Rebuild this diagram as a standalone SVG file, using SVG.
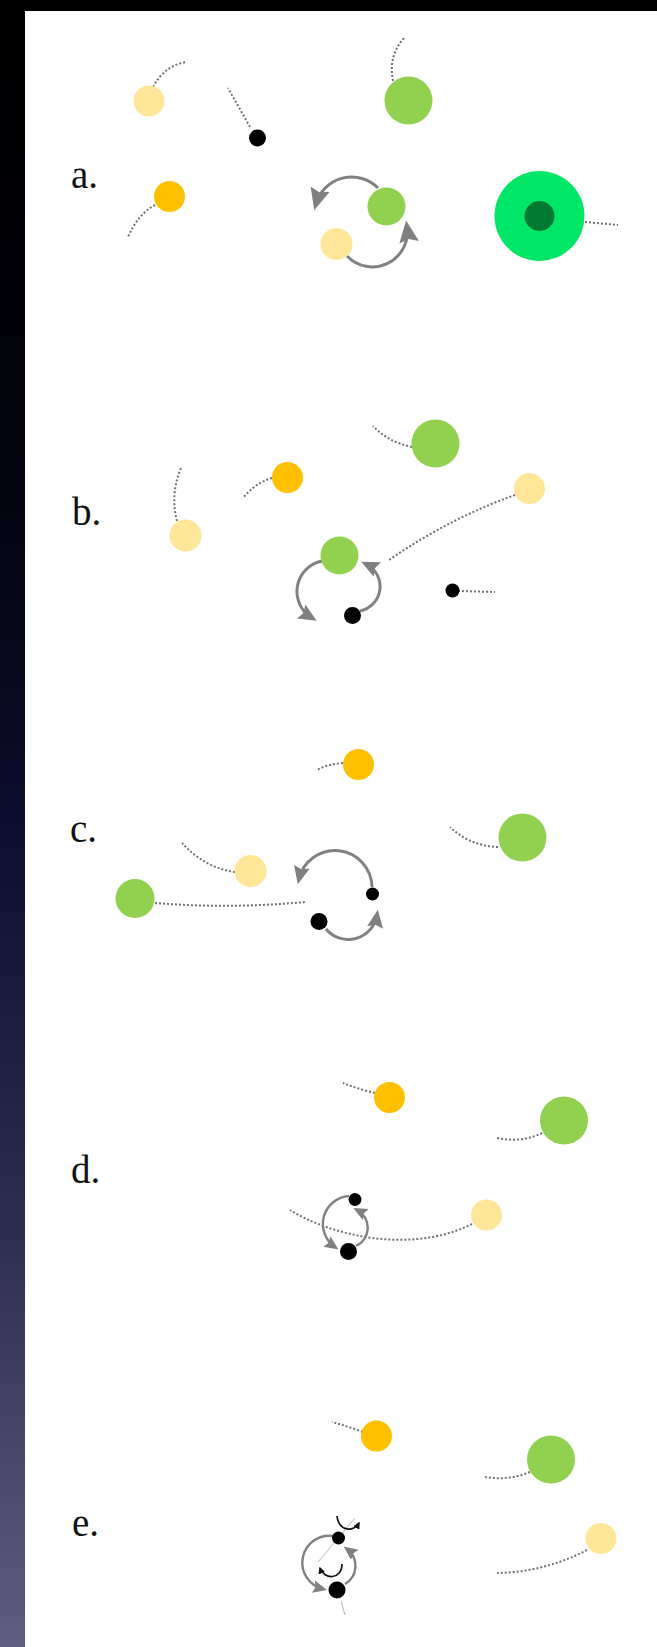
<svg xmlns="http://www.w3.org/2000/svg" width="657" height="1647" viewBox="0 0 657 1647">
<defs>
<linearGradient id="side" x1="0" y1="0" x2="0" y2="1">
<stop offset="0" stop-color="#000000"/>
<stop offset="0.3" stop-color="#03030f"/>
<stop offset="0.5" stop-color="#0d0d2e"/>
<stop offset="0.75" stop-color="#2e2e4e"/>
<stop offset="1" stop-color="#605e80"/>
</linearGradient>
<marker id="ahL" viewBox="0 0 10 10" refX="7" refY="5" markerWidth="22" markerHeight="22" markerUnits="userSpaceOnUse" orient="auto">
<path d="M0,0.5 L10,5 L0,9.5 L1.5,5 z" fill="#808080"/>
</marker>
<marker id="ahM" viewBox="0 0 10 10" refX="7" refY="5" markerWidth="18" markerHeight="18" markerUnits="userSpaceOnUse" orient="auto">
<path d="M0,0.5 L10,5 L0,9.5 L1.5,5 z" fill="#808080"/>
</marker>
<marker id="ahS" viewBox="0 0 10 10" refX="7" refY="5" markerWidth="14" markerHeight="14" markerUnits="userSpaceOnUse" orient="auto">
<path d="M0,0.5 L10,5 L0,9.5 L1.5,5 z" fill="#808080"/>
</marker>
<marker id="ahK" viewBox="0 0 10 10" refX="8" refY="5" markerWidth="7" markerHeight="7" markerUnits="userSpaceOnUse" orient="auto">
<path d="M0,0 L10,5 L0,10 z" fill="#111111"/>
</marker>
</defs>
<style>
.tail{fill:none;stroke:#707070;stroke-width:2;stroke-dasharray:2 2}
.arc{fill:none;stroke:#808080;stroke-width:3}
.arcS{fill:none;stroke:#808080;stroke-width:2.4}
.curl{fill:none;stroke:#111111;stroke-width:1.7}
.thin{fill:none;stroke:#b0b0b0;stroke-width:0.9}
.lbl{font-family:"Liberation Serif","Times New Roman",serif;font-size:39px;fill:#111111}
.py{fill:#FFE699}
.or{fill:#FFC000}
.gr{fill:#92D050}
.bk{fill:#000000}
</style>
<rect x="0" y="0" width="657" height="1647" fill="#ffffff"/>
<rect x="0" y="0" width="25" height="1647" fill="url(#side)"/>
<rect x="0" y="0" width="657" height="11" fill="#000000"/>

<g id="labels">
<text class="lbl" x="71" y="188">a.</text>
<text class="lbl" x="72" y="525">b.</text>
<text class="lbl" x="70" y="842">c.</text>
<text class="lbl" x="71" y="1183">d.</text>
<text class="lbl" x="72" y="1536">e.</text>
</g>

<g id="connectors">
<!-- panel a -->
<path class="tail" d="M153,87 Q164,66 186,62"/>
<path class="tail" d="M250,127 L228,88"/>
<path class="tail" d="M393,81 Q388,56 404,38"/>
<path class="tail" d="M155,205 Q138,214 128,237"/>
<path class="tail" d="M585,222 L618,225"/>
<path class="arc" d="M378,188 A37,37 0 0 0 316,204" marker-end="url(#ahL)"/>
<path class="arc" d="M347,256 A35,35 0 0 0 407,227" marker-end="url(#ahL)"/>
<!-- panel b -->
<path class="tail" d="M412,447 Q388,442 373,426"/>
<path class="tail" d="M272,478 Q255,483 243,498"/>
<path class="tail" d="M177,521 Q170,494 181,468"/>
<path class="tail" d="M515,495 Q450,518 389,560"/>
<path class="tail" d="M458,591 L495,592"/>
<path class="arc" d="M322,561 A31,31 0 0 0 312,618" marker-end="url(#ahM)"/>
<path class="arc" d="M360,611 A25,25 0 0 0 366,564" marker-end="url(#ahM)"/>
<!-- panel c -->
<path class="tail" d="M343,763 Q328,764 317,770"/>
<path class="tail" d="M498,847 Q470,846 450,827"/>
<path class="tail" d="M235,872 Q205,868 182,843"/>
<path class="tail" d="M155,903 Q230,909 305,902"/>
<path class="arc" d="M372,887 A37,37 0 0 0 299,879" marker-end="url(#ahM)"/>
<path class="arc" d="M326,929 A29,29 0 0 0 377,915" marker-end="url(#ahM)"/>
<!-- panel d -->
<path class="tail" d="M375,1093 Q358,1089 343,1083"/>
<path class="tail" d="M542,1133 Q522,1143 497,1138"/>
<path class="tail" d="M472,1224 C410,1255 330,1235 290,1210"/>
<path class="arcS" d="M349,1196 A28,28 0 0 0 335,1247" marker-end="url(#ahS)"/>
<path class="arcS" d="M356,1246 A20,20 0 0 0 357,1210" marker-end="url(#ahS)"/>
<!-- panel e -->
<path class="tail" d="M363,1432 Q347,1426 332,1422"/>
<path class="tail" d="M530,1472 Q508,1481 485,1477"/>
<path class="tail" d="M587,1550 Q545,1572 497,1573"/>
<path class="thin" d="M318,1562 L355,1518"/>
<path class="thin" d="M341,1601 L345,1615"/>
<path class="arcS" d="M333,1536 A27,27 0 0 0 323,1589" marker-end="url(#ahS)"/>
<path class="arcS" d="M345,1584 A21,21 0 0 0 347,1549" marker-end="url(#ahS)"/>
<path class="curl" d="M337,1516 C339,1532 354,1532 359,1523" marker-end="url(#ahK)"/>
<path class="curl" d="M342,1564 C342,1580 324,1580 320,1568" marker-end="url(#ahK)"/>
</g>

<g id="a-paleyellow"><circle class="py" cx="149" cy="101" r="15.5"/></g>
<g id="a-black"><circle class="bk" cx="257.5" cy="138" r="8.5"/></g>
<g id="a-green-top"><circle class="gr" cx="408.5" cy="100.5" r="24"/></g>
<g id="a-orange"><circle class="or" cx="169.5" cy="196.5" r="15.5"/></g>
<g id="a-green-cycle"><circle class="gr" cx="386.5" cy="206.5" r="19"/></g>
<g id="a-paleyellow-cycle"><circle class="py" cx="336.5" cy="244" r="16"/></g>
<g id="a-cell"><circle cx="539.5" cy="216" r="45" fill="#00E666"/><circle cx="539.5" cy="216" r="15" fill="#007A33"/></g>

<g id="b-green-top"><circle class="gr" cx="435.5" cy="443.5" r="24"/></g>
<g id="b-orange"><circle class="or" cx="287.5" cy="477.5" r="15.5"/></g>
<g id="b-paleyellow-left"><circle class="py" cx="185.5" cy="535.5" r="16"/></g>
<g id="b-paleyellow-right"><circle class="py" cx="529.5" cy="488.5" r="15.5"/></g>
<g id="b-green-cycle"><circle class="gr" cx="339.5" cy="555.5" r="19"/></g>
<g id="b-black-cycle"><circle class="bk" cx="352.5" cy="615.5" r="8.5"/></g>
<g id="b-black-right"><circle class="bk" cx="452.5" cy="590.5" r="7"/></g>

<g id="c-orange"><circle class="or" cx="358.5" cy="764.5" r="15.5"/></g>
<g id="c-green-right"><circle class="gr" cx="522.5" cy="837.5" r="24"/></g>
<g id="c-paleyellow"><circle class="py" cx="250.5" cy="871" r="16"/></g>
<g id="c-green-left"><circle class="gr" cx="135" cy="898.5" r="19.5"/></g>
<g id="c-black-right"><circle class="bk" cx="372.5" cy="894" r="6.5"/></g>
<g id="c-black-left"><circle class="bk" cx="319" cy="921.5" r="8.5"/></g>

<g id="d-orange"><circle class="or" cx="389.5" cy="1097.5" r="15.5"/></g>
<g id="d-green"><circle class="gr" cx="564" cy="1120.5" r="24"/></g>
<g id="d-paleyellow"><circle class="py" cx="486.5" cy="1215" r="15.5"/></g>
<g id="d-black-top"><circle class="bk" cx="355" cy="1199.5" r="6.5"/></g>
<g id="d-black-bottom"><circle class="bk" cx="348.5" cy="1251.5" r="8.5"/></g>

<g id="e-orange"><circle class="or" cx="376.5" cy="1436" r="15.5"/></g>
<g id="e-green"><circle class="gr" cx="551" cy="1459.5" r="24"/></g>
<g id="e-paleyellow"><circle class="py" cx="601" cy="1538.5" r="15.5"/></g>
<g id="e-black-top"><circle class="bk" cx="338.5" cy="1538" r="6.5"/></g>
<g id="e-black-bottom"><circle class="bk" cx="337" cy="1590" r="8.5"/></g>
</svg>
